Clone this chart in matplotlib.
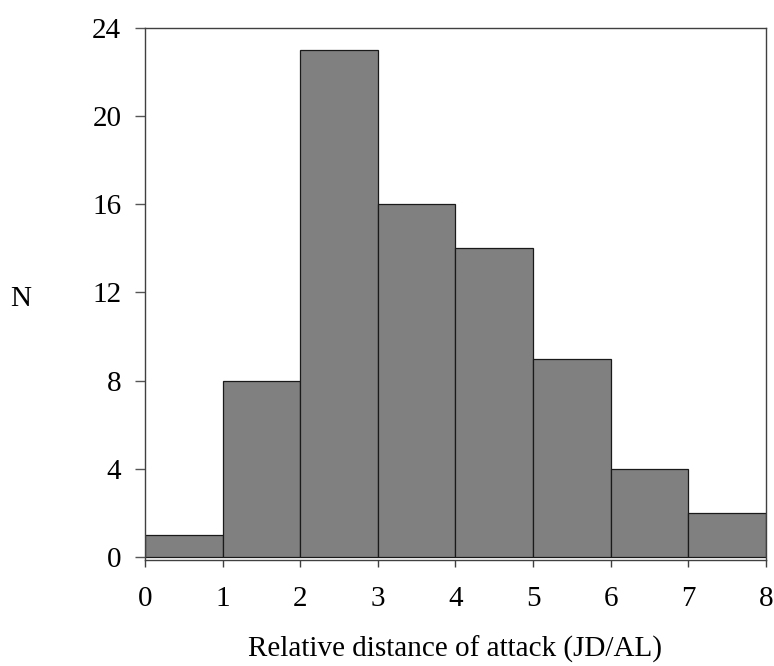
import matplotlib.pyplot as plt
import numpy as np

bin_edges = [0, 1, 2, 3, 4, 5, 6, 7, 8]
counts = [1, 8, 23, 16, 14, 9, 4, 2]
y_ticks = [0, 4, 8, 12, 16, 20, 24]

plt.rcParams["font.family"] = ["Liberation Serif", "DejaVu Serif"]

fig = plt.figure(figsize=(7.74, 6.66), dpi=100)
ax = fig.add_axes([0.1873, 0.159, 0.8024, 0.799])

edges = np.array(bin_edges)
ax.bar(
    edges[:-1],
    counts,
    width=np.diff(edges),
    align="edge",
    color="#808080",
    edgecolor="#1a1a1a",
    linewidth=0.9,
)

ax.set_xlim(0, 8)
ax.set_ylim(-0.14, 24)
ax.set_xticks(bin_edges)
ax.set_yticks(y_ticks)

for side in ["left", "right", "top", "bottom"]:
    ax.spines[side].set_color("#404040")
    ax.spines[side].set_linewidth(1.0)

ax.tick_params(axis="y", direction="out", length=7, width=1, color="#555555",
               labelsize=21, pad=10)
ax.tick_params(axis="x", direction="out", length=5, width=1, color="#404040",
               labelsize=21, pad=14)

ax.set_xlabel("Relative distance of attack (JD/AL)", fontsize=21, labelpad=17)
ax.set_ylabel("N", fontsize=21, rotation=0, va="center", ha="center")
ax.yaxis.set_label_coords(-0.2, 0.49)

plt.savefig("out.png", dpi=100)
